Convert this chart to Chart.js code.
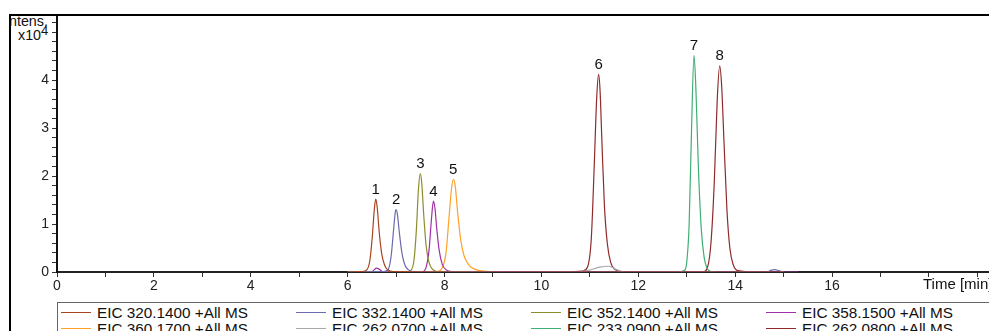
<!DOCTYPE html>
<html>
<head>
<meta charset="utf-8">
<script src="https://cdn.jsdelivr.net/npm/chart.js@4/dist/chart.umd.min.js"></script>
<style>
  html, body { margin: 0; padding: 0; background: #fff; }
  body { width: 989px; height: 331px; overflow: hidden; position: relative; font-family: 'Liberation Sans', Arial, sans-serif; }
  #frame { position: absolute; left: 9px; top: 14px; width: 990px; height: 330px; border-top: 2px solid #000; border-left: 2px solid #000; overflow: hidden; }
  #plot { position: absolute; left: 0; top: -11px; width: 978px; height: 297px; }
  .ylab { position: absolute; font-size: 14.3px; color: #111; line-height: 14px; white-space: nowrap; }
  #legend { position: absolute; left: 46px; top: 286px; width: 960px; height: 60px; border-top: 1px solid #666; border-left: 1px solid #666; }
  .item { position: absolute; font-size: 15.3px; line-height: 15px; color: #111; white-space: nowrap; }
  .item i { display: inline-block; width: 30px; height: 0; border-top: 1px solid; vertical-align: middle; margin-right: 6px; position: relative; top: -1px; }
</style>
</head>
<body>
<div id="frame">
  <div class="ylab" style="left:-6px; top:-2px;">Intens.</div>
  <div class="ylab" style="left:7px; top:12px;">x10<sup style="font-size:13px; vertical-align:5px; line-height:0;">4</sup></div>
  <div id="plot"><canvas id="eicChart"></canvas></div>
  <div id="legend"></div>
</div>
<script>
// EIC traces (time in min, intensity in 1e4 counts)
const names = ['EIC 320.1400 +All MS', 'EIC 332.1400 +All MS', 'EIC 352.1400 +All MS', 'EIC 358.1500 +All MS',
               'EIC 360.1700 +All MS', 'EIC 262.0700 +All MS', 'EIC 233.0900 +All MS', 'EIC 262.0800 +All MS'];
const colors = ['#a8431f', '#6b6bad', '#8c8c2e', '#a030a8', '#ffa126', '#a8a8a8', '#3fae72', '#8e2a2a'];

const t320 = [6.00, 6.30, 6.40, 6.46, 6.51, 6.55, 6.58, 6.61, 6.65, 6.70, 6.76, 6.83, 6.95, 9.00, 12.00, 15.00];
const i320 = [0, 0.01, 0.05, 0.25, 0.75, 1.30, 1.52, 1.35, 0.85, 0.40, 0.15, 0.04, 0.01, 0, 0, 0];

const t332 = [6.00, 6.75, 6.84, 6.90, 6.95, 6.98, 7.00, 7.03, 7.07, 7.12, 7.18, 7.25, 7.35, 9.00, 14.65, 14.75, 14.82, 14.90, 15.00];
const i332 = [0, 0.01, 0.06, 0.35, 0.90, 1.22, 1.30, 1.18, 0.80, 0.40, 0.15, 0.05, 0.01, 0, 0, 0.04, 0.05, 0.03, 0];

const t352 = [6.00, 7.20, 7.30, 7.37, 7.42, 7.46, 7.50, 7.53, 7.57, 7.62, 7.68, 7.75, 7.85, 9.00];
const i352 = [0, 0, 0.03, 0.25, 0.90, 1.70, 2.05, 1.85, 1.20, 0.55, 0.20, 0.06, 0.01, 0];

const t358 = [6.00, 6.50, 6.55, 6.60, 6.65, 6.72, 7.55, 7.62, 7.68, 7.73, 7.77, 7.80, 7.84, 7.89, 7.95, 8.03, 8.15, 12.00, 15.30];
const i358 = [0, 0, 0.05, 0.08, 0.06, 0.01, 0.01, 0.10, 0.45, 1.10, 1.48, 1.35, 0.90, 0.45, 0.17, 0.05, 0.01, 0, 0];

const t360 = [6.10, 7.85, 7.95, 8.03, 8.09, 8.14, 8.18, 8.22, 8.27, 8.33, 8.40, 8.50, 8.62, 8.80, 9.60, 10.30, 10.60];
const i360 = [0, 0.01, 0.08, 0.40, 1.10, 1.70, 1.93, 1.80, 1.25, 0.70, 0.35, 0.15, 0.06, 0.02, 0, 0, 0];

const t26207 = [10.80, 11.00, 11.20, 11.40, 11.55, 11.70];
const i26207 = [0, 0.04, 0.10, 0.12, 0.05, 0];

const t233 = [12.00, 12.80, 12.95, 13.00, 13.05, 13.10, 13.15, 13.19, 13.24, 13.30, 13.36, 13.42, 13.50, 13.60];
const i233 = [0, 0, 0.03, 0.20, 1.00, 3.00, 4.52, 3.80, 2.20, 0.90, 0.30, 0.08, 0.01, 0];

const t26208 = [10.50, 10.85, 10.95, 11.03, 11.09, 11.14, 11.18, 11.21, 11.25, 11.30, 11.36, 11.43, 11.52, 11.65, 13.35, 13.43, 13.50, 13.57, 13.63, 13.68, 13.72, 13.77, 13.83, 13.89, 13.96, 14.05, 14.50];
const i26208 = [0, 0.02, 0.10, 0.70, 2.20, 3.60, 4.12, 3.80, 2.70, 1.40, 0.60, 0.20, 0.05, 0.01, 0.01, 0.10, 0.60, 1.90, 3.60, 4.30, 3.90, 2.70, 1.30, 0.50, 0.15, 0.03, 0];

const traceTimes = [t320, t332, t352, t358, t360, t26207, t233, t26208];
const traceInts = [i320, i332, i352, i358, i360, i26207, i233, i26208];

// peak annotations
const peakLabels = ['1', '2', '3', '4', '5', '6', '7', '8'];
const peakTimes = [6.58, 7.00, 7.50, 7.77, 8.18, 11.18, 13.15, 13.68];
const peakHeights = [1.52, 1.30, 2.05, 1.48, 1.93, 4.12, 4.52, 4.30];

// axis tick labels
const xTickLabels = [0, 2, 4, 6, 8, 10, 12, 14, 16];
const yTickLabels = [0, 1, 2, 3, 4];

const xMax = 19.24;
const yMax = 5.33;

// legend
const legendEl = document.getElementById('legend');
names.forEach((n, k) => {
  const d = document.createElement('div');
  d.className = 'item';
  d.style.left = (3 + (k % 4) * 235) + 'px';
  d.style.top = (2 + Math.floor(k / 4) * 16) + 'px';
  d.innerHTML = '<i style="border-color:' + colors[k] + '"></i>' + n;
  legendEl.appendChild(d);
});

const peakLabelPlugin = {
  id: 'peakLabels',
  afterDatasetsDraw(chart) {
    const { ctx, scales: { x, y } } = chart;
    ctx.save();
    ctx.font = "15px 'Liberation Sans', Arial, sans-serif";
    ctx.fillStyle = '#111';
    ctx.textAlign = 'center';
    ctx.textBaseline = 'bottom';
    peakLabels.forEach((l, k) => {
      ctx.fillText(l, x.getPixelForValue(peakTimes[k]), y.getPixelForValue(peakHeights[k]) - 2);
    });
    ctx.restore();
  },
  afterDraw(chart) {
    const { ctx, chartArea } = chart;
    ctx.save();
    ctx.font = "15px 'Liberation Sans', Arial, sans-serif";
    ctx.fillStyle = '#111';
    ctx.textAlign = 'left';
    ctx.textBaseline = 'top';
    ctx.fillText('Time [min]', 912, chartArea.bottom + 5);
    ctx.restore();
  }
};

new Chart(document.getElementById('eicChart'), {
  type: 'line',
  data: {
    datasets: traceTimes.map((ts, k) => ({
      label: names[k],
      data: ts.map((t, j) => ({ x: t, y: traceInts[k][j] })),
      borderColor: colors[k],
      borderWidth: 1.2,
      pointRadius: 0,
      fill: false,
      cubicInterpolationMode: 'monotone'
    }))
  },
  options: {
    responsive: true,
    maintainAspectRatio: false,
    animation: false,
    layout: { padding: 0 },
    plugins: { legend: { display: false }, tooltip: { enabled: false } },
    scales: {
      x: {
        type: 'linear',
        min: 0,
        max: xMax,
        afterFit: s => { s.height = 30; },
        border: { display: true, color: '#222', width: 2 },
        grid: { drawOnChartArea: false, drawTicks: true, tickLength: 5, color: '#333' },
        ticks: {
          stepSize: 1,
          autoSkip: false,
          maxRotation: 0,
          includeBounds: false,
          padding: 1,
          color: '#222',
          font: { size: 14, family: "'Liberation Sans', Arial, sans-serif" },
          callback: v => (xTickLabels.includes(v) ? String(v) : '')
        }
      },
      y: {
        min: 0,
        max: yMax,
        afterFit: s => { s.width = 46; },
        border: { display: true, color: '#111', width: 2 },
        grid: { drawOnChartArea: false, drawTicks: true, tickLength: 5, color: '#333' },
        ticks: {
          stepSize: 0.2,
          autoSkip: false,
          includeBounds: false,
          padding: 3,
          color: '#222',
          font: { size: 14, family: "'Liberation Sans', Arial, sans-serif" },
          callback: v => {
            const r = Math.round(v);
            return Math.abs(v - r) < 1e-6 && yTickLabels.includes(r) ? String(r) : '';
          }
        }
      }
    }
  },
  plugins: [peakLabelPlugin]
});
</script>
</body>
</html>
